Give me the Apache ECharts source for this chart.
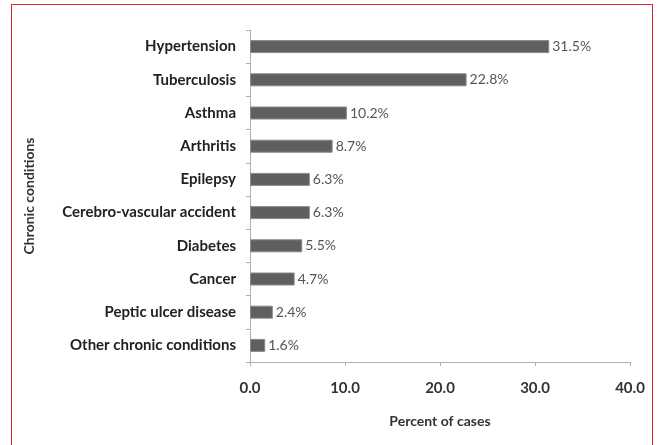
<!DOCTYPE html>
<html>
<head>
<meta charset="utf-8">
<script src="https://cdn.jsdelivr.net/npm/echarts@6/dist/echarts.min.js"></script>
<style>
  html, body { margin: 0; padding: 0; background: #fff; }
  .frame { position: absolute; left: 11px; top: 4px; width: 642px; height: 460px; border: 1.5px solid #e8232b; box-sizing: border-box; }
  #chart { position: absolute; left: 0; top: 0; width: 661px; height: 445px; }
</style>
</head>
<body>
<div class="frame"></div>
<div id="chart"></div>
<script>
// 慢性病类别（从上到下）
const conditions = ['Hypertension', 'Tuberculosis', 'Asthma', 'Arthritis', 'Epilepsy',
  'Cerebro-vascular accident', 'Diabetes', 'Cancer', 'Peptic ulcer disease', 'Other chronic conditions']
// 病例百分比
const percents = [31.5, 22.8, 10.2, 8.7, 6.3, 6.3, 5.5, 4.7, 2.4, 1.6]
const xTicks = [0, 10, 20, 30, 40]

const font = 'Lato, "Open Sans", sans-serif'
const chart = echarts.init(document.getElementById('chart'))
chart.setOption({
  textStyle: { fontFamily: font },
  grid: { left: 250, right: 31, top: 30, bottom: 83 },
  xAxis: {
    type: 'value',
    min: xTicks[0],
    max: xTicks[xTicks.length - 1],
    interval: 10,
    name: 'Percent of cases',
    nameLocation: 'middle',
    nameGap: 52,
    nameTextStyle: { fontFamily: font, fontSize: 14, fontWeight: 'bold', color: '#333' },
    axisLine: { show: true, lineStyle: { color: '#b0b0b0', width: 1 } },
    axisTick: { show: true, length: 4, lineStyle: { color: '#b0b0b0' } },
    axisLabel: {
      margin: 19, fontSize: 15, fontWeight: 'bold', color: '#333', fontFamily: font,
      formatter: (v) => v.toFixed(1)
    },
    splitLine: { show: false }
  },
  yAxis: {
    type: 'category',
    inverse: true,
    data: conditions,
    name: 'Chronic conditions',
    nameLocation: 'middle',
    nameRotate: 90,
    nameGap: 214,
    nameTextStyle: { fontFamily: font, fontSize: 14, fontWeight: 'bold', color: '#333' },
    axisLine: { show: true, lineStyle: { color: '#b0b0b0', width: 1 } },
    axisTick: { show: true, length: 4, alignWithLabel: false, lineStyle: { color: '#b0b0b0' } },
    axisLabel: { margin: 14, fontSize: 15, fontWeight: 'bold', color: '#222', fontFamily: font }
  },
  series: [{
    type: 'bar',
    data: percents,
    barWidth: 13,
    itemStyle: { color: '#5f5f5f', borderColor: '#8a8a8a', borderWidth: 1 },
    label: {
      show: true,
      position: 'right',
      distance: 3,
      fontSize: 14,
      color: '#555',
      fontFamily: font,
      formatter: (p) => p.value.toFixed(1) + '%'
    }
  }]
})
</script>
</body>
</html>
